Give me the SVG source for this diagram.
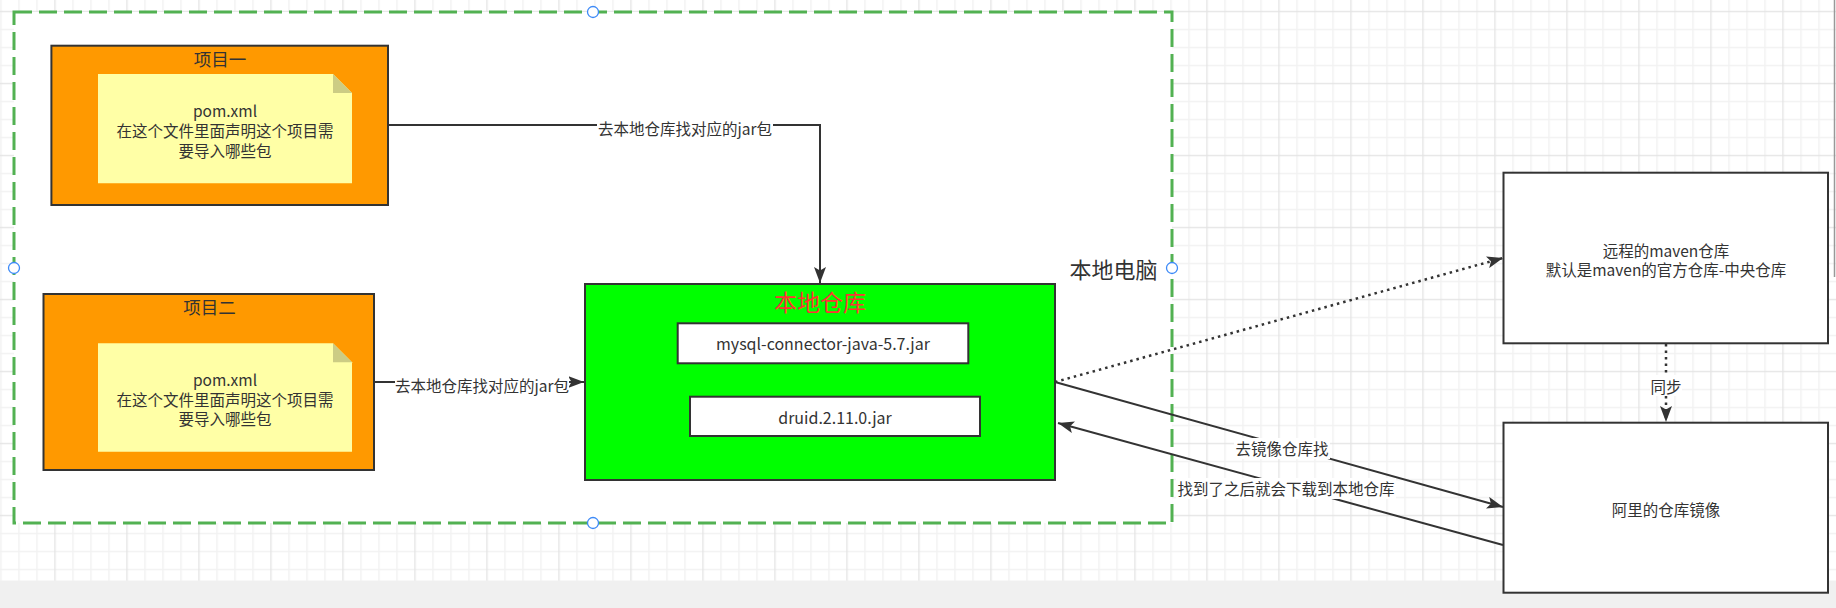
<svg xmlns="http://www.w3.org/2000/svg" width="1836" height="608" viewBox="0 0 1836 608">
<style>
text{font-family:"Microsoft YaHei","Noto Sans CJK SC","Noto Sans",sans-serif;fill:#333333;text-anchor:middle;dominant-baseline:central}
.box{stroke:#333333;stroke-width:2}
.edge{fill:none;stroke:#333333;stroke-width:2}
.dot{fill:none;stroke:#333333;stroke-width:2.5;stroke-dasharray:2.5 4}
.lbl{fill:#ffffff}
.t15{font-size:15.5px}
.note{fill:#ffffa6}
.fold{fill:#cccc84}
.handle{fill:#ffffff;stroke:#3d8af7;stroke-width:1.3}
</style>
<defs>
<pattern id="grid" patternUnits="userSpaceOnUse" x="54.3" y="10.8" width="72" height="72">
<rect x="0" y="0" width="72" height="72" fill="#ffffff"/>
<rect x="18" y="0" width="1.3" height="72" fill="#f1f1f1"/>
<rect x="36" y="0" width="1.3" height="72" fill="#f1f1f1"/>
<rect x="54" y="0" width="1.3" height="72" fill="#f1f1f1"/>
<rect x="0" y="18" width="72" height="1.3" fill="#f1f1f1"/>
<rect x="0" y="36" width="72" height="1.3" fill="#f1f1f1"/>
<rect x="0" y="54" width="72" height="1.3" fill="#f1f1f1"/>
<rect x="0" y="0" width="1.3" height="72" fill="#e4e4e4"/>
<rect x="0" y="0" width="72" height="1.3" fill="#e4e4e4"/>
</pattern>
<marker id="arr" markerUnits="userSpaceOnUse" viewBox="0 0 16 12" refX="16" refY="6" markerWidth="16" markerHeight="12" orient="auto">
<path d="M0,0 L16,6 L0,12 L3.5,6 Z" fill="#333333"/>
</marker>
</defs>
<rect x="0" y="0" width="1836" height="608" fill="#f0f0f0"/>
<rect x="0" y="0" width="1836" height="580.5" fill="url(#grid)"/>
<line x1="1834.5" y1="0" x2="1834.5" y2="277" stroke="#999999" stroke-width="1.5"/>

<g id="local-pc">
<rect x="14" y="12" width="1158" height="511" fill="#ffffff" stroke="#52b152" stroke-width="3" stroke-dasharray="18 7"/>
<text x="1113.5" y="268" style="font-size:22px">本地电脑</text>
<circle class="handle" cx="593" cy="12" r="5.5"/>
<circle class="handle" cx="1172" cy="268" r="5.5"/>
<circle class="handle" cx="593" cy="523" r="5.5"/>
<circle class="handle" cx="14" cy="268" r="5.5"/>
</g>

<g id="project1">
<rect class="box" x="51.4" y="45.7" width="336.6" height="159.3" fill="#ff9900"/>
<text x="220" y="58" style="font-size:17.5px">项目一</text>
<path class="note" d="M98,74 H333 L352,93 V183.3 H98 Z"/>
<path class="fold" d="M333,74 L352,93 H333 Z"/>
<text class="t15" x="225" y="110">pom.xml</text>
<text class="t15" x="225" y="130">在这个文件里面声明这个项目需</text>
<text class="t15" x="225" y="149.5">要导入哪些包</text>
</g>

<g id="project2">
<rect class="box" x="43.5" y="294" width="330.5" height="176" fill="#ff9900"/>
<text x="209.6" y="306" style="font-size:17.5px">项目二</text>
<path class="note" d="M98,343.3 H333 L352,362.3 V451.7 H98 Z"/>
<path class="fold" d="M333,343.3 L352,362.3 H333 Z"/>
<text class="t15" x="225" y="379.3">pom.xml</text>
<text class="t15" x="225" y="398.5">在这个文件里面声明这个项目需</text>
<text class="t15" x="225" y="418">要导入哪些包</text>
</g>

<g id="local-repo">
<rect class="box" x="585" y="284" width="470" height="196" fill="#00ff00"/>
<text x="820" y="300.7" style="font-size:23px;fill:#ff3333">本地仓库</text>
<rect class="box" x="677.7" y="323.3" width="290.6" height="40" fill="#ffffff"/>
<text x="823" y="343" style="font-size:16px">mysql-connector-java-5.7.jar</text>
<rect class="box" x="690" y="396.7" width="290" height="39.3" fill="#ffffff"/>
<text x="835" y="416.5" style="font-size:16px">druid.2.11.0.jar</text>
</g>

<g id="remote-repo">
<rect class="box" x="1503.5" y="172.7" width="324.5" height="170.6" fill="#ffffff"/>
<text class="t15" x="1666" y="250">远程的maven仓库</text>
<text class="t15" x="1666" y="269">默认是maven的官方仓库-中央仓库</text>
</g>

<g id="ali-mirror">
<rect class="box" x="1503.5" y="422.7" width="324.5" height="170" fill="#ffffff"/>
<text class="t15" x="1666" y="509">阿里的仓库镜像</text>
</g>

<g id="connectors">
<path class="edge" d="M388,125 H820 V283" marker-end="url(#arr)"/>
<rect class="lbl" x="597" y="117" width="176" height="21"/>
<text class="t15" x="685" y="127.7">去本地仓库找对应的jar包</text>

<path class="edge" d="M374,382 H584" marker-end="url(#arr)"/>
<rect class="lbl" x="395" y="374" width="174" height="21"/>
<text class="t15" x="482" y="384.5">去本地仓库找对应的jar包</text>

<path class="dot" d="M1055,382 L1503,258" marker-end="url(#arr)"/>

<path class="edge" d="M1055,382 L1503,507" marker-end="url(#arr)"/>
<rect class="lbl" x="1234" y="438" width="96" height="21"/>
<text class="t15" x="1282" y="448">去镜像仓库找</text>

<path class="edge" d="M1503,545 L1058,423" marker-end="url(#arr)"/>
<rect class="lbl" x="1176" y="478" width="220" height="21"/>
<text class="t15" x="1286" y="488">找到了之后就会下载到本地仓库</text>

<path class="dot" d="M1666,344 V422" marker-end="url(#arr)"/>
<rect class="lbl" x="1650" y="375" width="32" height="21"/>
<text class="t15" x="1666" y="385.7">同步</text>
</g>
</svg>
